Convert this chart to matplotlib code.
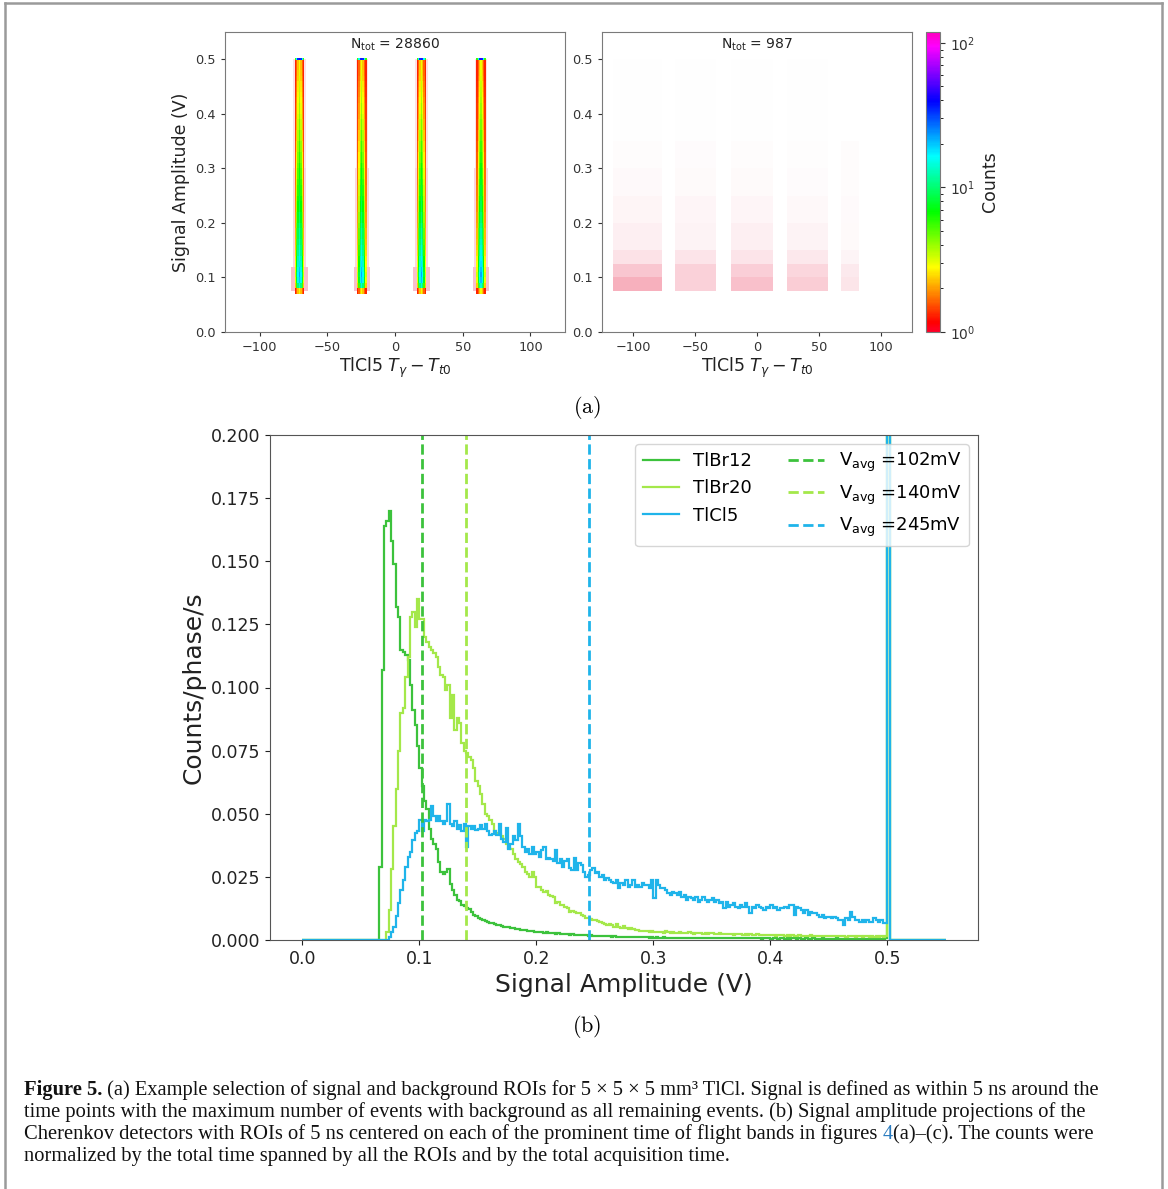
import numpy as np
import matplotlib
matplotlib.use("Agg")
import matplotlib.pyplot as plt
from matplotlib.colors import LogNorm
from matplotlib.lines import Line2D

# ---------------- (a) left: signal ROIs, amplitude vs time ----------------
band_centers = [-71, -25, 19, 63]          # ns
time_edges = np.arange(-125, 126, 1.0)
amp_edges = np.r_[np.arange(0.07, 0.495, 0.01), 0.498, 0.503]
# counts in the central time bin of a band, per amplitude bin
core_counts = [3, 14, 20, 22, 20, 18, 17, 15, 14, 13,
               12, 12, 11, 10, 10, 9, 9, 8.5, 8, 8,
               7.5, 7, 7, 6.5, 6, 6, 5.5, 5.5, 5, 5,
               4.5, 4.5, 4.2, 4, 4, 3.8, 3.6, 3.5, 3.4, 3.2,
               3.1, 3, 3, 45]
# share of the core counts across a band, offsets -3 .. +3 ns
lateral_weights = [0.1, 0.35, 0.75, 1.0, 0.75, 0.35, 0.1]
# flat scatter of single hits along the band edges
edge_floor = [1.0, 0.6, 0, 0, 0, 0.6, 1.0]
# sparse single hits further out: amplitude ranges, half width (ns), density
halo_amp_lo = [0.075, 0.12, 0.3]
halo_amp_hi = [0.12, 0.3, 0.5]
halo_halfwidth = [6.0, 5.0, 4.5]
halo_density = [0.3, 0.2, 0.14]
n_signal = 28860

# ---------------- (a) right: background ROIs ----------------
bg_block_lo = [-116, -66, -21, 24, 68]
bg_block_hi = [-77, -33, 13, 57, 82]
bg_amp_edges = [0.075, 0.1, 0.125, 0.15, 0.2, 0.25, 0.3, 0.35, 0.5]
bg_counts = [[105, 75, 38, 42, 26, 15, 6, 5],
             [52, 52, 30, 26, 20, 12, 7, 4],
             [72, 56, 30, 36, 21, 12, 6, 4],
             [56, 46, 25, 25, 15, 8, 4, 3],
             [12, 10, 5, 5, 4, 2, 2, 0]]
n_background = 987

# ---------------- (b) amplitude projections ----------------
amp_bins = np.linspace(0.0, 0.55, 276)   # 2 mV bins

tlbr12 = ([0] * 33 +
          [0.029, 0.107, 0.164, 0.166, 0.170, 0.158, 0.149, 0.132, 0.128, 0.115,
           0.114, 0.113, 0.111, 0.101, 0.091, 0.085, 0.077, 0.068, 0.061, 0.055,
           0.052, 0.044, 0.040, 0.038, 0.036, 0.031, 0.027, 0.026, 0.027, 0.028,
           0.022, 0.020, 0.018, 0.016, 0.0155, 0.014, 0.0135, 0.0128, 0.0122, 0.011,
           0.010, 0.0095, 0.0088, 0.0085, 0.0078, 0.0075, 0.0072, 0.0068] +
          [0.0066, 0.0062, 0.0060, 0.0058, 0.0055, 0.0053, 0.0052, 0.0050, 0.0048, 0.0047,
           0.0045, 0.0044, 0.0040, 0.0038, 0.0039, 0.0036, 0.0035, 0.0034, 0.0033, 0.0031,
           0.0032, 0.0030, 0.0029, 0.0030, 0.0027, 0.0028, 0.0026, 0.0025, 0.0026, 0.0024,
           0.0023, 0.0024, 0.0022, 0.0021, 0.0022, 0.0020, 0.0021, 0.0019, 0.0018, 0.0019] +
          [0.0018, 0.0017, 0.0018, 0.0016, 0.0017, 0.0015, 0.0016, 0.0015, 0.0014, 0.0015,
           0.0014, 0.0013, 0.0014, 0.0013, 0.0012, 0.0013, 0.0012, 0.0012, 0.0011, 0.0012,
           0.0011, 0.0011, 0.0010, 0.0011, 0.0010, 0.0010, 0.0011, 0.0009, 0.0010, 0.0009,
           0.0010, 0.0009, 0.0009, 0.0010, 0.0008, 0.0009, 0.0009, 0.0008, 0.0009, 0.0008,
           0.0008, 0.0009, 0.0008, 0.0008, 0.0007, 0.0008, 0.0008, 0.0007, 0.0008, 0.0007,
           0.0007, 0.0008, 0.0007, 0.0007, 0.0008, 0.0006, 0.0007, 0.0007, 0.0008, 0.0006,
           0.0007, 0.0006, 0.0007, 0.0007, 0.0006, 0.0007, 0.0006, 0.0007, 0.0006, 0.0006,
           0.0007, 0.0006, 0.0006, 0.0007, 0.0006, 0.0005, 0.0006, 0.0006, 0.0007, 0.0005,
           0.0006, 0.0006, 0.0005, 0.0006, 0.0006, 0.0005, 0.0006, 0.0005, 0.0006, 0.0006,
           0.0005, 0.0006, 0.0005, 0.0005, 0.0006, 0.0005, 0.0005, 0.0006, 0.0005, 0.0005,
           0.0005, 0.0006, 0.0005, 0.0005, 0.0004, 0.0005, 0.0005, 0.0006, 0.0005, 0.0004,
           0.0005, 0.0005, 0.0004, 0.0005, 0.0005, 0.0004, 0.0005, 0.0005, 0.0004, 0.0005,
           0.0005, 0.0004, 0.0005, 0.0004, 0.0005, 0.0005, 0.0004, 0.0005, 0.0006] +
          [0.30] + [0] * 24)

tlbr20 = ([0] * 36 +
          [0.003, 0.012, 0.028, 0.045, 0.060, 0.075, 0.090, 0.092, 0.104, 0.112,
           0.128, 0.130, 0.124, 0.135, 0.127, 0.127, 0.120, 0.118, 0.116, 0.115] +
          [0.1135, 0.112, 0.108, 0.105, 0.104, 0.099, 0.101, 0.088, 0.097, 0.083,
           0.088, 0.086, 0.078, 0.075, 0.074, 0.0726, 0.0713, 0.068, 0.063, 0.061,
           0.058, 0.054, 0.050, 0.049, 0.0475, 0.046, 0.043, 0.0422, 0.042, 0.041,
           0.040, 0.038, 0.0365, 0.036, 0.034, 0.032, 0.031] +
          [0.030, 0.029, 0.027, 0.026, 0.025, 0.027, 0.025, 0.021, 0.021, 0.020,
           0.019, 0.0195, 0.018, 0.0175, 0.017, 0.0145, 0.015, 0.0139, 0.014, 0.013,
           0.0125, 0.0112, 0.0115, 0.011, 0.0106, 0.0105, 0.0099, 0.0095, 0.0088, 0.0086,
           0.0085, 0.008, 0.0078, 0.0076, 0.007, 0.0066, 0.0065, 0.006, 0.0062, 0.0058,
           0.0053, 0.0062, 0.0053, 0.0048, 0.0055, 0.0046, 0.0045, 0.0046, 0.0042, 0.004,
           0.0038, 0.0036, 0.0037, 0.0034, 0.0035, 0.0033] +
          [0.0034, 0.0031, 0.0033, 0.0030, 0.0032, 0.0029, 0.0035, 0.0030, 0.0028, 0.0031,
           0.0029, 0.0027, 0.0030, 0.0028, 0.0026, 0.0029, 0.0031, 0.0027, 0.0025, 0.0028,
           0.0026, 0.0029, 0.0025, 0.0027, 0.0024, 0.0026, 0.0028, 0.0023, 0.0025, 0.0026,
           0.0024, 0.0022, 0.0025, 0.0023, 0.0024, 0.0021, 0.0023, 0.0025, 0.0022, 0.0021,
           0.0023, 0.0020, 0.0022, 0.0021, 0.0019, 0.0022, 0.0020, 0.0021, 0.0019, 0.0020,
           0.0018, 0.0020, 0.0019, 0.0017, 0.0019, 0.0018, 0.0020, 0.0017, 0.0018, 0.0016,
           0.0018, 0.0017, 0.0016, 0.0018, 0.0017, 0.0015, 0.0017, 0.0016, 0.0018, 0.0015,
           0.0016, 0.0017, 0.0015, 0.0016, 0.0014, 0.0016, 0.0015, 0.0017, 0.0014, 0.0015,
           0.0016, 0.0014, 0.0015, 0.0013, 0.0015, 0.0014, 0.0016, 0.0013, 0.0014, 0.0015,
           0.0013, 0.0014, 0.0015, 0.0013, 0.0014, 0.0012, 0.0014, 0.0013, 0.0015, 0.0013,
           0.0014] +
          [0.30] + [0] * 24)

tlcl5 = ([0] * 37 +
         [0.0012, 0.003, 0.005, 0.0095, 0.0146, 0.020, 0.0238, 0.029, 0.033, 0.035,
          0.0396, 0.0422, 0.043, 0.0475, 0.043, 0.0475, 0.047, 0.0475, 0.053, 0.049,
          0.047, 0.049, 0.047, 0.046, 0.047, 0.054, 0.046, 0.045, 0.047, 0.044,
          0.0455, 0.043, 0.046, 0.037, 0.045, 0.044, 0.045, 0.0435, 0.044, 0.0455,
          0.044, 0.046, 0.043, 0.0415, 0.042, 0.043, 0.0415, 0.046, 0.040, 0.039,
          0.0445, 0.036, 0.038, 0.041, 0.0395, 0.046] +
         [0.041, 0.037, 0.035, 0.036, 0.034, 0.037, 0.034, 0.035, 0.033, 0.0356,
          0.037, 0.032, 0.0323, 0.032, 0.0311, 0.0355, 0.0304, 0.032, 0.029, 0.0311,
          0.032, 0.0284, 0.0277, 0.0323, 0.0277, 0.0304, 0.0297, 0.027, 0.0251, 0.0257,
          0.0277, 0.0284, 0.0264, 0.027, 0.0251, 0.0257, 0.0238, 0.0244, 0.0238, 0.0231,
          0.0224, 0.0238, 0.0205, 0.0224, 0.0218, 0.0238, 0.0211, 0.0218, 0.0238, 0.0211,
          0.0218, 0.0211, 0.0224, 0.0218] +
         [0.0218, 0.0205, 0.0238, 0.0165, 0.0238, 0.0218, 0.0205, 0.0205, 0.0198, 0.0185,
          0.0178, 0.0191, 0.0185, 0.0178, 0.0191, 0.0172, 0.0178, 0.0158, 0.0172, 0.0165,
          0.0158, 0.0172, 0.0152, 0.0158, 0.0172, 0.0158, 0.0152, 0.0158, 0.0165, 0.0152,
          0.0158, 0.0145, 0.0152, 0.0125, 0.0152, 0.0132, 0.0139, 0.0145, 0.0132, 0.0125,
          0.0139, 0.0132, 0.0145, 0.0132, 0.0106, 0.0132, 0.0125, 0.0139, 0.0132, 0.0125,
          0.0119, 0.0132, 0.0125] +
         [0.0139, 0.0125, 0.0132, 0.0119, 0.0125, 0.0125, 0.0132, 0.0125, 0.0139, 0.0139,
          0.0099, 0.0132, 0.0125, 0.0119, 0.0106, 0.0119, 0.0099, 0.0112, 0.0106, 0.0106,
          0.0099, 0.0092, 0.0099, 0.0086, 0.0092, 0.0092, 0.0086, 0.0092, 0.0086, 0.0079,
          0.0079, 0.0059, 0.0086, 0.0079, 0.0112, 0.0092, 0.0079, 0.0079, 0.0073, 0.0079,
          0.0073, 0.0079, 0.0073, 0.0073, 0.0086, 0.0079, 0.0073, 0.0079, 0.0066, 0.0066] +
         [0.35] + [0] * 24)

series_names = ["TlBr12", "TlBr20", "TlCl5"]
series_colors = ["#3cc23c", "#a4e84a", "#1fb4ea"]
v_avg_mv = [102, 140, 245]

W, H = 1168, 1189
fig = plt.figure(figsize=(W / 100, H / 100), dpi=100)


def fax(x0, y0, x1, y1):
    # axes from pixel box (top-left origin)
    return fig.add_axes([x0 / W, 1 - y1 / H, (x1 - x0) / W, (y1 - y0) / H])


cmap = plt.get_cmap("gist_rainbow")
norm = LogNorm(vmin=1, vmax=119)
top_spine = "#7a7a7a"
hit_red = (0.92, 0.18, 0.32)

# ---- left top panel
axL = fax(225, 32, 565, 332)
grid = np.zeros((len(amp_edges) - 1, len(time_edges) - 1))
half = len(lateral_weights) // 2
core = np.array(core_counts)
hx, hw, hb, hh, hc = [], [], [], [], []
for c in band_centers:
    i0 = int(np.searchsorted(time_edges, c, side="right") - 1)
    for k, (w, fl) in enumerate(zip(lateral_weights, edge_floor)):
        grid[:, i0 - half + k] += core * w + fl
    mid = 0.5 * (time_edges[i0] + time_edges[i0 + 1])
    for lo, hi, hwid, d in zip(halo_amp_lo, halo_amp_hi, halo_halfwidth, halo_density):
        hx.append(mid - hwid); hw.append(2 * hwid)
        hb.append(lo); hh.append(hi - lo)
        hc.append((*hit_red, d))
axL.bar(hx, hh, width=hw, bottom=hb, align="edge", color=hc, linewidth=0, zorder=1)
grid = np.ma.masked_less(grid, 0.6)
mesh = axL.pcolormesh(time_edges, amp_edges, grid, cmap=cmap, norm=norm, zorder=2)
axL.set_xlim(-125.5, 125.5)
axL.set_ylim(0, 0.55)
axL.set_xticks([-100, -50, 0, 50, 100])
axL.set_yticks([0.0, 0.1, 0.2, 0.3, 0.4, 0.5])
axL.set_ylabel("Signal Amplitude (V)", fontsize=12.5, color="#222")
axL.set_xlabel(r"TlCl5 $T_{\gamma} - T_{t0}$", fontsize=12.5, color="#222", labelpad=1)
axL.text(0.5, 0.985, r"$\mathrm{N_{tot}}$ = %d" % n_signal, transform=axL.transAxes,
         ha="center", va="top", fontsize=10, color="#222")

# ---- right top panel
axR = fax(602, 32, 912, 332)
bx, bw, bb, bh, bc = [], [], [], [], []
for j in range(len(bg_block_lo)):
    for k in range(len(bg_amp_edges) - 1):
        w = bg_block_hi[j] - bg_block_lo[j]
        h = bg_amp_edges[k + 1] - bg_amp_edges[k]
        a = min(0.4, bg_counts[j][k] / (w * h) * 0.0035)
        bx.append(bg_block_lo[j]); bw.append(w)
        bb.append(bg_amp_edges[k]); bh.append(h)
        bc.append((*hit_red, a))
axR.bar(bx, bh, width=bw, bottom=bb, align="edge", color=bc, linewidth=0)
axR.set_xlim(-125, 125)
axR.set_ylim(0, 0.55)
axR.set_xticks([-100, -50, 0, 50, 100])
axR.set_yticks([0.0, 0.1, 0.2, 0.3, 0.4, 0.5])
axR.set_xlabel(r"TlCl5 $T_{\gamma} - T_{t0}$", fontsize=12.5, color="#222", labelpad=1)
axR.text(0.5, 0.985, r"$\mathrm{N_{tot}}$ = %d" % n_background, transform=axR.transAxes,
         ha="center", va="top", fontsize=10, color="#222")

for ax in (axL, axR):
    ax.tick_params(labelsize=9.3, colors="#333", length=3)
    for s in ax.spines.values():
        s.set_color(top_spine)

cax = fax(926, 32, 940, 332)
cb = fig.colorbar(mesh, cax=cax)
cb.set_label("Counts", fontsize=12.5, color="#222")
cb.ax.tick_params(labelsize=10, colors="#333")
cb.outline.set_edgecolor(top_spine)

# ---- bottom panel
axB = fax(270, 435, 978, 940)
handles = []
for vals, name, col in zip([tlbr12, tlbr20, tlcl5], series_names, series_colors):
    axB.stairs(vals, amp_bins, color=col, linewidth=1.6, label=name)
    handles.append(Line2D([], [], color=col, lw=1.6, label=name))
for v, col in zip(v_avg_mv, series_colors):
    axB.axvline(v / 1000, color=col, ls="--", lw=2)
    handles.append(Line2D([], [], color=col, ls="--", lw=2,
                          label=r"$\mathrm{V_{avg}}$ =%dmV" % v))
axB.set_xlim(-0.0275, 0.5775)
axB.set_ylim(0, 0.2)
axB.set_xticks([0.0, 0.1, 0.2, 0.3, 0.4, 0.5])
axB.set_yticks(np.arange(0, 0.2001, 0.025))
axB.yaxis.set_major_formatter(plt.FormatStrFormatter("%.3f"))
axB.tick_params(labelsize=12.5, colors="#222")
for s in axB.spines.values():
    s.set_color("#555")
axB.set_xlabel("Signal Amplitude (V)", fontsize=18, color="#222")
axB.set_ylabel("Counts/phase/s", fontsize=18, color="#222")
axB.legend(handles=handles, ncol=2, loc="upper right", fontsize=13)

# ---- panel letters
fig.text(587 / W, 1 - 407 / H, r"$\mathrm{(a)}$", ha="center", va="center",
         fontsize=16, math_fontfamily="cm")
fig.text(587 / W, 1 - 1027 / H, r"$\mathrm{(b)}$", ha="center", va="center",
         fontsize=16, math_fontfamily="cm")

# ---- caption
cap = fig.add_axes([0, 0, 1, 1])
cap.axis("off")
cap.set_xlim(0, W)
cap.set_ylim(H, 0)
cfont = dict(family="Liberation Serif", fontsize=14.8, color="#111")
t = cap.text(24, 1100, "Figure 5.", va="bottom", fontweight="bold", **cfont)
cap.annotate(" (a) Example selection of signal and background ROIs for 5 \u00d7 5 \u00d7 5 mm\u00b3 TlCl. "
             "Signal is defined as within 5 ns around the",
             xy=(1, 0), xycoords=t, va="bottom", **cfont)
cap.text(24, 1122, "time points with the maximum number of events with background as all "
         "remaining events. (b) Signal amplitude projections of the", va="bottom", **cfont)
t = cap.text(24, 1144, "Cherenkov detectors with ROIs of 5 ns centered on each of the prominent "
             "time of flight bands in figures ", va="bottom", **cfont)
t = cap.annotate("4", xy=(1, 0), xycoords=t, va="bottom",
                 **{**cfont, "color": "#2a7bbf"})
cap.annotate("(a)\u2013(c). The counts were", xy=(1, 0), xycoords=t, va="bottom", **cfont)
cap.text(24, 1166, "normalized by the total time spanned by all the ROIs and by the total "
         "acquisition time.", va="bottom", **cfont)

# outer frame
for xs, ys in [((5, 5), (H, 3)), ((5, 1162), (3, 3)), ((1162, 1162), (3, H))]:
    cap.add_line(Line2D(xs, ys, color="#9a9a9a", lw=1.8))

fig.savefig("out.png", dpi=100)
